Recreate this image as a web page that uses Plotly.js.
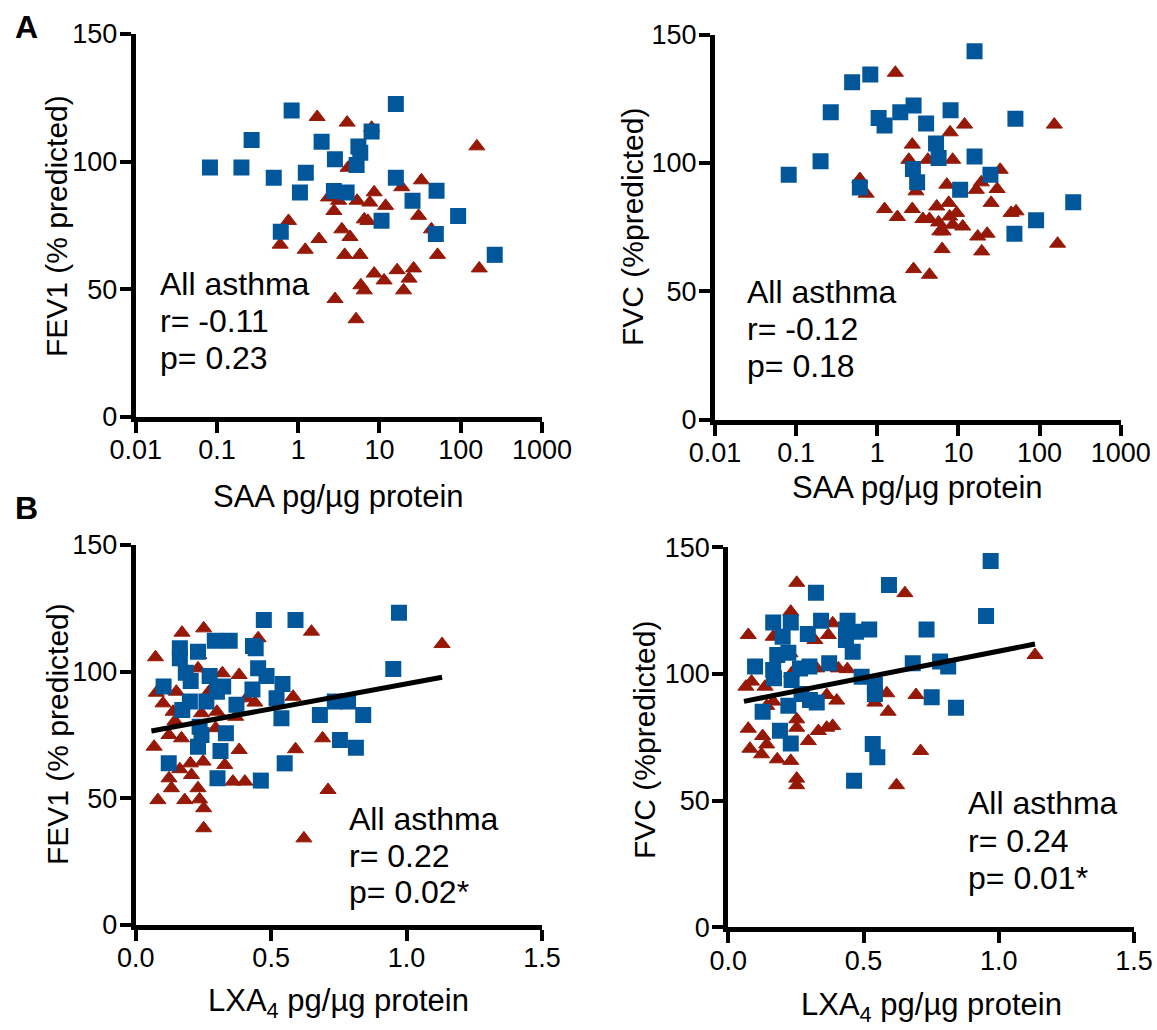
<!DOCTYPE html>
<html><head><meta charset="utf-8">
<script src="https://cdn.plot.ly/plotly-3.0.1.min.js"></script>
<style>html,body{margin:0;padding:0;background:#fff}</style>
</head><body><div id="chart" style="width:1157px;height:1030px"></div>
<script>
// ---------- Panel A: SAA vs FEV1 ----------
const saaFev1SqX = [0.082,0.20,0.267,0.50,0.83,1.05,1.24,0.61,1.94,2.83,2.75,3.94,5.5,5.8,5.23,8.0,15.9,15.9,10.6,25.5,50.4,49.4,92.9,262];
const fev1SqA    = [97.7,97.7,108.5,93.7,120,87.9,95.7,72.6,107.8,100.9,88.5,87.9,105.9,103.5,98.7,111.8,122.6,93.7,76.9,84.7,88.6,71.7,78.7,63.5];
const saaFev1TriX = [1.71,4.0,8.0,158,4.1,32.8,18.8,8.6,2.36,3.14,5.3,7.6,11.9,2.75,0.76,6.5,7.2,30.3,3.44,4.34,43.6,0.60,1.22,1.80,3.73,5.76,51.8,8.6,16.5,26.3,11.4,23.1,5.9,6.5,19.8,169,2.84,5.15];
const fev1TriA    = [117.5,115.3,113.3,106,97.6,92.7,90,88,86,84.7,84.7,84,82.7,80.7,76.8,77.4,76.8,78.8,73.5,70.5,73.5,67.5,65.5,69.7,63.5,63.5,63.5,56.2,57.5,58.2,53.5,54.2,51.6,49.6,49.6,58.2,46.2,38.3];

// ---------- Panel A: SAA vs FVC ----------
const saaFvcSqX = [15.8,0.82,0.49,0.267,2.8,1.92,8.0,1.04,1.23,4.0,50.4,5.3,5.7,15.8,0.20,0.081,2.75,3.1,24.8,0.61,10.5,260,90.6,49];
const fvcSqA    = [143.5,134.4,131.4,119.7,122.3,119.7,120.5,117.5,114.5,115.3,117.2,107.5,101.9,102.5,100.6,95.4,97.6,92.4,95.4,90.4,89.5,84.6,77.6,72.4];
const saaFvcTriX = [1.67,11.9,152,7.9,2.7,2.45,4.2,8.5,32.7,0.61,0.73,3.0,7.2,19.1,16.6,30,25.3,1.23,1.77,2.7,3.65,4.4,5.4,7.6,9.5,7.8,5.7,8.5,11.3,5.9,6.5,44.6,51.3,17.3,22.6,6.3,19.4,167,2.8,4.4];
const fvcTriA    = [135.1,114.9,114.9,111.9,107.1,101.2,101.2,101.2,97.3,93.7,88,88.9,91.5,92.4,89.5,89.8,84.4,82.0,78.9,82.0,78.1,78.1,83.0,84.4,80.5,79.1,76.8,75.9,75.2,73.3,73.3,80.5,81.1,71.3,72.4,66.4,65.5,68.5,58.6,56.4];

// ---------- Panel B: LXA4 vs FEV1 ----------
const lxaFev1SqX = [0.972,0.473,0.59,0.292,0.347,0.433,0.443,0.163,0.23,0.163,0.951,0.452,0.483,0.185,0.203,0.273,0.103,0.323,0.30,0.431,0.542,0.52,0.20,0.261,0.372,0.735,0.784,0.172,0.68,0.84,0.538,0.236,0.243,0.333,0.23,0.313,0.754,0.813,0.122,0.55,0.302,0.462];
const fev1SqB    = [123.3,120.4,120.4,112.2,112.2,110.1,109.2,109.2,107.9,105.3,101.1,101.3,98.3,99.6,96.3,98.3,94.1,94.1,92.1,93.0,95.1,89.5,88.2,88.2,86.9,88.2,88.2,84.9,82.9,82.9,81.6,78.3,75.0,75.7,70.4,68.7,73.0,70.0,63.8,63.8,57.9,57.0];
const lxaFev1TriX = [0.251,0.171,0.649,0.452,1.131,0.073,0.233,0.23,0.32,0.382,0.076,0.15,0.101,0.138,0.243,0.30,0.369,0.44,0.409,0.581,0.123,0.169,0.295,0.068,0.382,0.59,0.69,0.163,0.202,0.249,0.329,0.123,0.206,0.359,0.403,0.132,0.23,0.71,0.082,0.181,0.236,0.251,0.251,0.621,0.145,0.27];
const fev1TriB    = [117.1,115.4,115.8,113.2,110.9,105.7,106.6,101.3,99.4,98.7,91.7,92.1,87.5,84.2,83.6,84.2,82.2,87.8,89.5,90.1,75.0,73.7,77.7,70.4,69.1,69.4,73.7,61.5,63.8,64.5,63.2,57.9,59.2,56.6,56.6,54.0,54.0,53.3,49.3,49.3,49.6,46.1,38.2,34.2,80.5,92.0];
const fitFev1X = [0.058,1.131];
const fitFev1Y = [76.6,97.8];

// ---------- Panel B: LXA4 vs FVC ----------
const lxaFvcSqX = [0.970,0.594,0.324,0.953,0.166,0.231,0.343,0.441,0.521,0.733,0.294,0.201,0.435,0.472,0.435,0.46,0.222,0.181,0.099,0.166,0.265,0.30,0.373,0.682,0.783,0.813,0.493,0.169,0.234,0.542,0.542,0.752,0.842,0.271,0.302,0.327,0.127,0.222,0.191,0.231,0.534,0.551,0.465];
const fvcSqB    = [144.6,135.1,132.1,122.9,120.3,120.3,121.0,121.0,117.6,117.6,115.8,114.7,117.6,116.7,113.4,108.8,108.4,107.5,102.9,101.6,102.2,102.9,104.2,104.2,104.9,102.9,98.9,98.3,97.6,95.7,92.1,90.8,86.7,92.1,89.7,88.7,85.1,87.5,77.6,72.6,72.4,67.1,57.8];
const lxaFvcTriX = [0.253,0.653,0.231,0.386,0.074,0.166,0.37,0.32,0.228,1.134,0.44,0.407,0.327,0.234,0.065,0.086,0.136,0.586,0.694,0.542,0.364,0.401,0.591,0.166,0.142,0.253,0.074,0.127,0.253,0.333,0.364,0.386,0.296,0.08,0.123,0.181,0.231,0.142,0.711,0.253,0.253,0.622];
const fvcTriB    = [136.0,131.9,124.6,120.0,115.4,114.7,115.4,113.4,108.2,107.5,101.9,102.2,102.2,100.3,95.0,97.0,95.0,92.4,91.7,88.7,91.7,89.5,85.1,89.1,87.4,82.1,78.4,75.5,78.8,77.5,78.8,79.5,73.5,70.5,68.3,66.3,65.7,72.2,69.6,58.7,56.1,56.1];
const fitFvcX = [0.058,1.134];
const fitFvcY = [89.2,111.8];

// ---------- ticks and texts ----------
const logTickVals = [0.01,0.1,1,10,100,1000];
const logTickText = ['0.01','0.1','1','10','100','1000'];
const linTickVals = [0,0.5,1.0,1.5];
const linTickText = ['0.0','0.5','1.0','1.5'];
const yTickVals = [0,50,100,150];
const yTickText = ['0','50','100','150'];
const statsFev1A = ['All asthma','r= -0.11','p= 0.23'];
const statsFvcA  = ['All asthma','r= -0.12','p= 0.18'];
const statsFev1B = ['All asthma','r= 0.22','p= 0.02*'];
const statsFvcB  = ['All asthma','r= 0.24','p= 0.01*'];

const BLUE = '#02579B';
const RED = '#961806';
const W = 1157, H = 1030;
const px = X => X / W;
const py = Y => 1 - Y / H;

function tri(x, y, n) {
  return {type:'scatter', mode:'markers', x:x, y:y, xaxis:'x'+n, yaxis:'y'+n, hoverinfo:'skip',
    marker:{symbol:'triangle-up', size:14, color:RED, line:{color:RED, width:1}}};
}
function sq(x, y, n) {
  return {type:'scatter', mode:'markers', x:x, y:y, xaxis:'x'+n, yaxis:'y'+n, hoverinfo:'skip',
    marker:{symbol:'square', size:16, color:BLUE, line:{width:0}}};
}
function fit(x, y, n) {
  return {type:'scatter', mode:'lines', x:x, y:y, xaxis:'x'+n, yaxis:'y'+n, hoverinfo:'skip',
    line:{color:'black', width:5}};
}

const data = [
  tri(saaFev1TriX, fev1TriA, ''), sq(saaFev1SqX, fev1SqA, ''),
  tri(saaFvcTriX, fvcTriA, '2'), sq(saaFvcSqX, fvcSqA, '2'),
  tri(lxaFev1TriX, fev1TriB, '3'), sq(lxaFev1SqX, fev1SqB, '3'), fit(fitFev1X, fitFev1Y, '3'),
  tri(lxaFvcTriX, fvcTriB, '4'), sq(lxaFvcSqX, fvcSqB, '4'), fit(fitFvcX, fitFvcY, '4')
];

const axBase = {showline:true, linewidth:5, linecolor:'black', ticks:'outside', ticklen:11, tickwidth:4,
  tickcolor:'black', showgrid:false, zeroline:false, tickfont:{size:27, color:'black'}, fixedrange:true};

function xLog(d, anchor) { return Object.assign({}, axBase, {type:'log', range:[-2,3], domain:d, anchor:anchor,
  tickmode:'array', tickvals:logTickVals, ticktext:logTickText, ticklabelstandoff:-6}); }
function xLin(d, anchor) { return Object.assign({}, axBase, {type:'linear', range:[0,1.5], domain:d, anchor:anchor,
  tickmode:'array', tickvals:linTickVals, ticktext:linTickText, ticklabelstandoff:-6}); }
function yAx(d, anchor) { return Object.assign({}, axBase, {range:[0,150], domain:d, anchor:anchor,
  tickmode:'array', tickvals:yTickVals, ticktext:yTickText, ticklabelstandoff:-3}); }

const ann = [];
function txt(t, X, Y, opts) {
  ann.push(Object.assign({text:t, x:px(X), y:py(Y), xref:'paper', yref:'paper', showarrow:false,
    xanchor:'left', yanchor:'middle', font:{size:32, color:'black'}}, opts||{}));
}
function stats(lines, X, Ys) { lines.forEach((l,i) => txt(l, X, Ys[i])); }

stats(statsFev1A, 158, [284, 321, 358]);
stats(statsFvcA, 745, [292, 329, 366]);
stats(statsFev1B, 347, [819, 856, 892]);
stats(statsFvcB, 966, [803, 841, 878]);

// axis titles
const xt = {xanchor:'center', font:{size:31, color:'black'}};
const yt = {xanchor:'center', textangle:-90, font:{size:30, color:'black'}};
txt('SAA pg/µg protein', 338, 496, xt);
txt('SAA pg/µg protein', 917, 487, xt);
txt('LXA<sub>4</sub> pg/µg protein', 338, 1003, xt);
txt('LXA<sub>4</sub> pg/µg protein', 931, 1007, xt);
txt('FEV1 (% predicted)', 57, 226, yt);
txt('FVC (%predicted)', 632, 227, yt);
txt('FEV1 (% predicted)', 57, 734, yt);
txt('FVC (%predicted)', 644, 740, yt);
// panel letters
txt('<b>A</b>', 13, 27, {font:{size:32, color:'black'}});
txt('<b>B</b>', 13, 508, {font:{size:32, color:'black'}});

const layout = {
  width:W, height:H, margin:{l:0, r:0, t:0, b:0}, paper_bgcolor:'white', plot_bgcolor:'white',
  showlegend:false, font:{family:'"Liberation Sans", Arial, Helvetica, sans-serif', color:'black'},
  xaxis: xLog([px(135.7), px(542)], 'y'),
  yaxis: yAx([py(417), py(34)], 'x'),
  xaxis2: xLog([px(715), px(1120.7)], 'y2'),
  yaxis2: yAx([py(419.5), py(34.5)], 'x2'),
  xaxis3: xLin([px(135.7), px(542)], 'y3'),
  yaxis3: yAx([py(925), py(545)], 'x3'),
  xaxis4: xLin([px(728.3), px(1134)], 'y4'),
  yaxis4: yAx([py(927.3), py(547.3)], 'x4'),
  annotations: ann
};

Plotly.newPlot('chart', data, layout, {displayModeBar:false, staticPlot:true});
</script></body></html>
